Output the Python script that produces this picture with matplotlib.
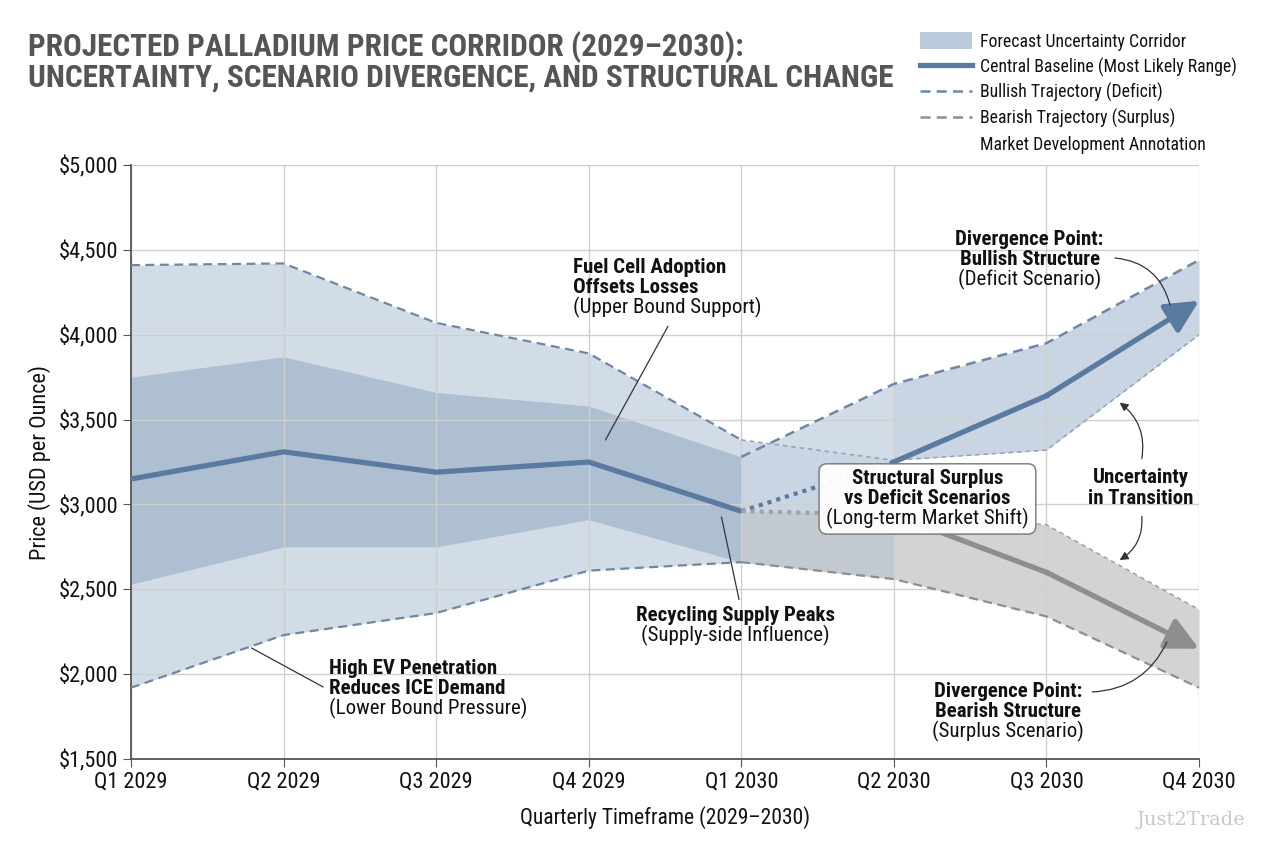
import matplotlib
matplotlib.use('Agg')
import matplotlib.pyplot as plt
from matplotlib.patches import Patch, FancyBboxPatch
from matplotlib.lines import Line2D
from matplotlib.transforms import Bbox, IdentityTransform

plt.rcParams['font.family'] = ['Roboto Condensed', 'Liberation Sans Narrow', 'DejaVu Sans']

quarters = ['Q1 2029', 'Q2 2029', 'Q3 2029', 'Q4 2029',
            'Q1 2030', 'Q2 2030', 'Q3 2030', 'Q4 2030']

# corridor Q1 2029 .. Q1 2030 (outer_upper runs on to Q2 2030)
outer_upper = [4410, 4420, 4070, 3890, 3380, 3260]
outer_lower = [1920, 2230, 2360, 2610, 2660]
inner_upper = [3750, 3870, 3660, 3580, 3280]
inner_lower = [2530, 2750, 2750, 2910, 2660]
baseline = [3150, 3310, 3190, 3250, 2960]

# scenarios Q1 2030 .. Q4 2030
bull_center = [2960, 3250, 3640, 4200]
bull_upper = [3280, 3710, 3950, 4440]
bull_lower = [2960, 3260, 3320, 4000]
bear_center = [2960, 2940, 2600, 2150]
bear_upper = [2960, 2950, 2880, 2380]
bear_lower = [2660, 2560, 2340, 1920]

x = list(range(len(quarters)))
xl = x[:5]
xr = x[4:]

BLUE = '#5a7aa0'
BLUE_D = '#6f87a5'
GRAY = '#8e8e8e'
TXT = '#111111'

fig = plt.figure(figsize=(12.64, 8.48), dpi=100)
ax = fig.add_axes([131 / 1264, 1 - 759 / 848, 1068 / 1264, 594 / 848])

# bands
ax.fill_between(xl, outer_lower, outer_upper[:5], color='#d2dce7', lw=0, zorder=1)
ax.fill_between(xl, inner_lower, inner_upper, color='#adbfd1', lw=0, zorder=1.1)
ax.fill_between(xr, bull_lower, bull_upper, color='#c9d5e2', lw=0, zorder=1)
ax.fill_between(xr[:2], bull_upper[:2], outer_upper[4:6], color='#d2dce7', lw=0,
                interpolate=True, zorder=1)
ax.fill_between(xr[:2], bear_upper[:2], bull_lower[:2], color='#c9d5e2', lw=0, zorder=1)
ax.fill_between(xr, bear_lower, bear_upper, color='#d3d3d3', lw=0, zorder=1.2)
ax.fill_between(xr[:2], bear_lower[:2], bear_upper[:2], color='#bcc6d1', lw=0,
                alpha=0.7, zorder=1.3)

# bounds
ax.plot(xl, outer_upper[:5], ls=(0, (4, 2.5)), lw=1.6, color=BLUE_D, zorder=3)
ax.plot(xl, outer_lower, ls=(0, (4, 2.5)), lw=1.6, color=BLUE_D, zorder=3)
ax.plot(xr, bull_upper, ls=(0, (4, 2.5)), lw=1.8, color=BLUE_D, zorder=3)
ax.plot(xr, [outer_upper[4]] + bull_lower[1:], ls=(0, (3, 2.5)), lw=1.1,
        color='#8fa2b8', zorder=3)
ax.plot(xr[1:], bear_upper[1:], ls=(0, (3, 2.5)), lw=1.1, color='#a0a0a0', zorder=3)
ax.plot(xr, bear_lower, ls=(0, (4, 2.5)), lw=1.6, color=GRAY, zorder=3)

# central paths
ax.plot(xl, baseline, color=BLUE, lw=3.8, solid_capstyle='butt', zorder=4)
ax.plot(xr[:2], bull_center[:2], color=BLUE, lw=3, ls=(0, (1, 1.2)), zorder=4)
ax.plot(xr[:2], bear_center[:2], color='#a3a3a3', lw=3, ls=(0, (1, 1.2)), zorder=4)
ax.plot(xr[1:3], bull_center[1:3], color=BLUE, lw=3.8, zorder=4)
ax.plot(xr[1:3], bear_center[1:3], color=GRAY, lw=3.8, zorder=4)
ax.annotate('', xy=(xr[3], bull_center[3]), xytext=(xr[2], bull_center[2]),
            arrowprops=dict(arrowstyle='-|>,head_length=0.9,head_width=0.45',
                            lw=3.8, color=BLUE, shrinkA=0, shrinkB=0,
                            mutation_scale=22), zorder=4, annotation_clip=False)
ax.annotate('', xy=(xr[3], bear_center[3]), xytext=(xr[2], bear_center[2]),
            arrowprops=dict(arrowstyle='-|>,head_length=0.9,head_width=0.45',
                            lw=3.8, color=GRAY, shrinkA=0, shrinkB=0,
                            mutation_scale=22), zorder=4, annotation_clip=False)

# axes styling
ax.set_xlim(0, 7)
ax.set_ylim(1500, 5000)
ax.set_xticks(x)
ax.set_xticklabels(quarters)
ax.set_yticks(range(1500, 5001, 500))
ax.set_yticklabels(['${:,}'.format(v) for v in range(1500, 5001, 500)])
ax.tick_params(labelsize=16, length=6, color='#555555', labelcolor=TXT, pad=3)
ax.grid(True, color='#cfcfcf', lw=1)
ax.set_axisbelow('line')
for s in ['top', 'right']:
    ax.spines[s].set_visible(False)
for s in ['left', 'bottom']:
    ax.spines[s].set_color('#555555')
    ax.spines[s].set_linewidth(1.3)
ax.set_xlabel('Quarterly Timeframe (2029\u20132030)', fontsize=15.5, color=TXT, labelpad=10)
ax.set_ylabel('Price (USD per Ounce)', fontsize=16, color=TXT, labelpad=6)


def note(xp, yp, bold, normal, ha='center', size=15):
    kw = dict(ha=ha, multialignment=ha, fontsize=size, linespacing=1.08,
              color=TXT, zorder=6)
    if not normal:
        return [ax.text(xp, yp, bold, va='center', fontweight='bold', **kw)]
    tb = ax.text(xp, yp, bold, va='bottom', fontweight='bold', **kw)
    tn = ax.text(xp, yp, normal, va='top', **kw)
    return [tb, tn]


def leader(p0, p1, style='-', rad=0.0):
    ax.annotate('', xy=p1, xytext=p0, zorder=6,
                arrowprops=dict(arrowstyle=style, lw=0.9, color='#333333',
                                shrinkA=0, shrinkB=0,
                                connectionstyle='arc3,rad={}'.format(rad)))


note(2.90, 4222, 'Fuel Cell Adoption\nOffsets Losses', '(Upper Bound Support)', ha='left')
leader((3.11, 3380), (3.52, 4050))

note(3.96, 2290, 'Recycling Supply Peaks', '(Supply-side Influence)')
leader((3.87, 2926), (3.985, 2440))

note(1.30, 1859, 'High EV Penetration\nReduces ICE Demand', '(Lower Bound Pressure)', ha='left')
leader((0.79, 2154), (1.26, 1924))

box_texts = note(5.22, 2979, 'Structural Surplus\nvs Deficit Scenarios', '(Long-term Market Shift)')

note(5.89, 4387, 'Divergence Point:\nBullish Structure', '(Deficit Scenario)')
leader((6.45, 4452), (6.81, 4175), rad=-0.35)

note(6.62, 3097, 'Uncertainty\nin Transition', '')
leader((6.625, 3270), (6.48, 3600), style='-|>,head_length=0.5,head_width=0.25', rad=0.3)
leader((6.625, 2930), (6.48, 2672), style='-|>,head_length=0.5,head_width=0.25', rad=-0.3)

note(5.75, 1724, 'Divergence Point:\nBearish Structure', '(Surplus Scenario)')
leader((6.30, 1895), (6.79, 2190), rad=0.3)

# title
fig.text(28 / 1264, 1 - 56 / 848, 'PROJECTED PALLADIUM PRICE CORRIDOR (2029\u20132030):',
         fontsize=22.5, fontweight='bold', color='#555555', va='baseline')
fig.text(28 / 1264, 1 - 87 / 848, 'UNCERTAINTY, SCENARIO DIVERGENCE, AND STRUCTURAL CHANGE',
         fontsize=22.5, fontweight='bold', color='#555555', va='baseline')

# legend
handles = [
    Patch(facecolor='#bccbdb', edgecolor='none'),
    Line2D([], [], color=BLUE, lw=3.8),
    Line2D([], [], color=BLUE_D, lw=1.8, ls=(0, (4, 2.5))),
    Line2D([], [], color=GRAY, lw=1.8, ls=(0, (4, 2.5))),
    Line2D([], [], color='none'),
]
labels = ['Forecast Uncertainty Corridor', 'Central Baseline (Most Likely Range)',
          'Bullish Trajectory (Deficit)', 'Bearish Trajectory (Surplus)',
          'Market Development Annotation']
fig.legend(handles, labels, loc='upper left', bbox_to_anchor=(920 / 1264, 1 - 32 / 848),
           frameon=False, fontsize=12.8, handlelength=2.9, handleheight=1.1,
           labelspacing=0.38, handletextpad=0.45, borderpad=0, borderaxespad=0,
           labelcolor=TXT)

fig.text(1245 / 1264, 1 - 820 / 848, 'Just2Trade', fontsize=14, color='#c8c8c8',
         family='DejaVu Serif', ha='right', va='center')

# rounded box behind the scenario note, sized from its text
fig.canvas.draw()
r = fig.canvas.get_renderer()
bb = Bbox.union([t.get_window_extent(r) for t in box_texts])
pad = 7
box = FancyBboxPatch((bb.x0 - pad, bb.y0 - pad + 2), bb.width + 2 * pad, bb.height + 2 * pad - 4,
                     boxstyle='round,pad=0,rounding_size=8', transform=IdentityTransform(),
                     fc='white', ec='#7a7a7a', lw=1.1, alpha=0.95, zorder=5)
ax.add_artist(box)

fig.savefig('out.png', dpi=100)
